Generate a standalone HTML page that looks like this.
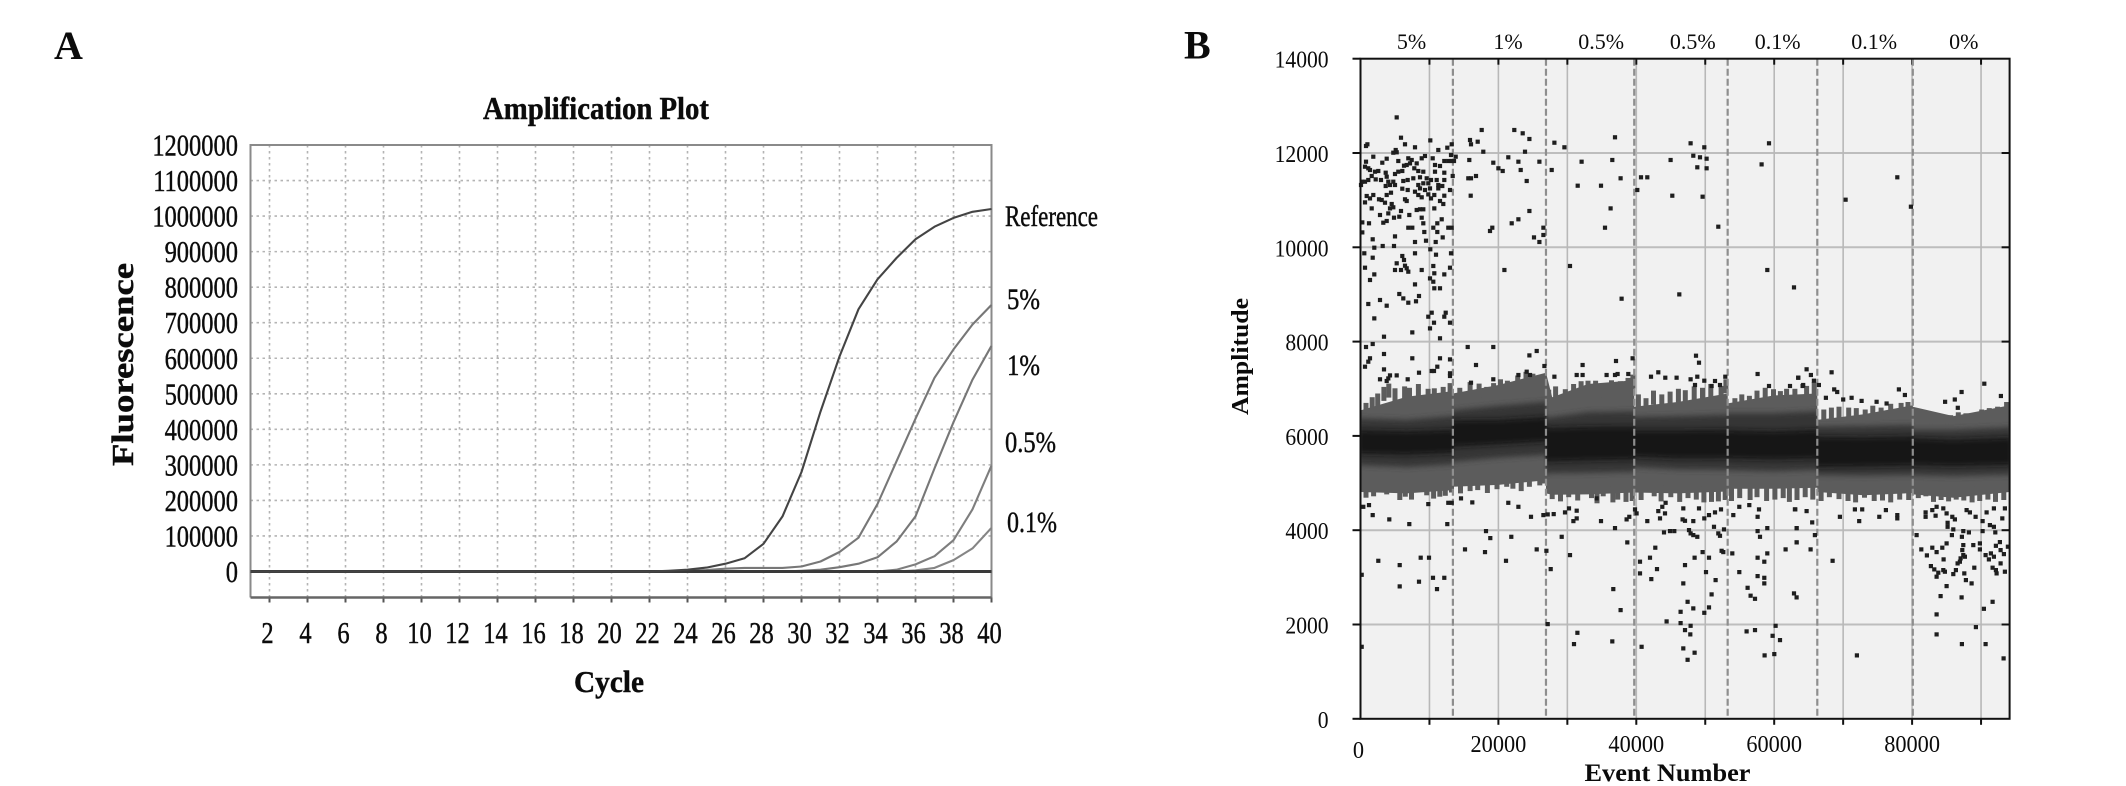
<!DOCTYPE html>
<html lang="en">
<head>
<meta charset="utf-8">
<title>Amplification plot and droplet amplitude plot</title>
<style>
html,body{margin:0;padding:0;background:#fff;width:2126px;height:786px;overflow:hidden}
svg{display:block}
text{font-family:"Liberation Serif",serif;fill:#0b0b0b}
#plotA text,.heavy{stroke:#111;stroke-width:.45}
</style>
</head>
<body>
<svg id="figure" xmlns="http://www.w3.org/2000/svg" width="2126" height="786" viewBox="0 0 2126 786">
  <defs>
    <filter id="soft" x="-2%" y="-30%" width="104%" height="160%"><feGaussianBlur stdDeviation="1.2 3"/></filter>
    <clipPath id="clipB"><rect x="1360.5" y="58.6" width="649" height="660.2"/></clipPath>
  </defs>
  <rect width="2126" height="786" fill="#fff"/>

  <text x="54" y="59" font-size="40" font-weight="bold">A</text>
  <text x="1184" y="58.6" font-size="40" font-weight="bold">B</text>

  <text class="heavy" x="483" y="119" font-size="32" font-weight="bold" textLength="226" lengthAdjust="spacingAndGlyphs">Amplification Plot</text>
  <text class="heavy" transform="translate(133,466) rotate(-90)" font-size="31" font-weight="bold" textLength="203" lengthAdjust="spacingAndGlyphs">Fluorescence</text>
  <text class="heavy" x="574" y="692" font-size="31" font-weight="bold" textLength="70" lengthAdjust="spacingAndGlyphs">Cycle</text>

  <g id="plotA"></g>

  <text class="heavy" x="1005" y="226" font-size="30" textLength="93" lengthAdjust="spacingAndGlyphs">Reference</text>
  <text class="heavy" x="1007" y="309" font-size="30" textLength="33" lengthAdjust="spacingAndGlyphs">5%</text>
  <text class="heavy" x="1007" y="375" font-size="30" textLength="33" lengthAdjust="spacingAndGlyphs">1%</text>
  <text class="heavy" x="1005" y="452" font-size="30" textLength="51" lengthAdjust="spacingAndGlyphs">0.5%</text>
  <text class="heavy" x="1007" y="532" font-size="30" textLength="50" lengthAdjust="spacingAndGlyphs">0.1%</text>

  <g id="plotB"></g>

  <text transform="translate(1248,415) rotate(-90)" font-size="24" font-weight="bold" textLength="117" lengthAdjust="spacingAndGlyphs">Amplitude</text>
  <text x="1584.5" y="781" font-size="25" font-weight="bold" textLength="166" lengthAdjust="spacingAndGlyphs">Event Number</text>
</svg>

<script>
// ---------- Panel A data ----------
const cycles = [1,2,3,4,5,6,7,8,9,10,11,12,13,14,15,16,17,18,19,20,21,22,23,24,25,26,27,28,29,30,31,32,33,34,35,36,37,38,39,40];
const cycleTickLabels = [2,4,6,8,10,12,14,16,18,20,22,24,26,28,30,32,34,36,38,40];
const fluorescenceTickLabels = [0,100000,200000,300000,400000,500000,600000,700000,800000,900000,1000000,1100000,1200000];
const referenceSeries = [0,0,0,0,0,0,0,0,0,0,0,0,0,0,0,0,0,0,0,0,0,0,2000,5000,11000,22000,37000,78000,155000,280000,450000,605000,738000,822000,882000,935000,970000,995000,1012000,1020000];
const fivePercentSeries = [0,0,0,0,0,0,0,0,0,0,0,0,0,0,0,0,0,0,0,0,0,0,0,2000,4000,8000,10000,10000,10000,14000,28000,55000,95000,190000,310000,430000,545000,625000,695000,750000];
const onePercentSeries = [0,0,0,0,0,0,0,0,0,0,0,0,0,0,0,0,0,0,0,0,0,0,0,0,0,0,0,0,0,2000,5000,12000,22000,40000,84000,155000,290000,420000,540000,635000];
const halfPercentSeries = [0,0,0,0,0,0,0,0,0,0,0,0,0,0,0,0,0,0,0,0,0,0,0,0,0,0,0,0,0,0,0,0,0,0,5000,20000,43000,88000,175000,298000];
const tenthPercentSeries = [0,0,0,0,0,0,0,0,0,0,0,0,0,0,0,0,0,0,0,0,0,0,0,0,0,0,0,0,0,0,0,0,0,0,0,3000,10000,32000,65000,123000];

// ---------- Panel B data ----------
const amplitudeTickLabels = [0,2000,4000,6000,8000,10000,12000,14000];
const eventTickLabels = [0,20000,40000,60000,80000];
const eventGridValues = [10000,20000,30000,40000,50000,60000,70000,80000,90000];
const wellBoundaries = [13400,26900,39700,53250,66250,80100];
const wellLabels = ["5%","1%","0.5%","0.5%","0.1%","0.1%","0%"];
const wellLabelEvents = [7400,21400,34900,48200,60500,74500,87500];
const bandEvents =      [0,6700,13400,13400,20000,26900,26900,27800,33000,39700,39700,46000,53250,53250,60000,66250,66250,73000,80100,80100,86000,94140];
const bandOuterTop =    [6540,6830,6950,6900,7080,7340,7340,6820,7100,7180,6620,6720,6900,6690,6860,6900,6340,6460,6650,6620,6420,6650];
const bandMidTop =      [6370,6340,6420,6540,6640,6720,6400,6400,6500,6520,6400,6420,6450,6480,6480,6520,6200,6210,6230,6130,6130,6180];
const bandCoreTop =     [6120,6100,6130,6330,6340,6400,6190,6170,6190,6200,6120,6120,6130,6120,6100,6130,5980,5970,5990,5950,5920,5960];
const bandCoreBottom =  [5620,5600,5640,5770,5820,5880,5450,5460,5480,5500,5560,5520,5530,5520,5500,5520,5340,5350,5370,5380,5360,5390];
const bandMidBottom =   [5380,5340,5400,5450,5540,5600,5200,5210,5220,5240,5340,5290,5280,5270,5250,5280,5170,5160,5170,5170,5150,5180];
const bandOuterBottom = [4810,4780,4850,4920,4960,5060,4780,4750,4760,4800,4800,4780,4820,4880,4880,4900,4810,4740,4790,4760,4690,4810];
const bandFringeTop = [
[800,6700],[1700,6820],[2500,6900],[3400,7040],[4100,7110],[5000,7010],[6400,7050],[7100,7020],[8400,7100],[9800,7000],[10700,7010],[12000,7040],[13000,7120],
[14400,7020],[15900,7140],[17200,7110],[18300,7040],[19300,7120],[20300,7200],[21300,7170],[22800,7280],[24000,7360],[25000,7320],
[27300,6980],[28300,7050],[29700,6990],[30900,7100],[32000,7160],[33000,7170],[34100,7170],[35300,7110],[36400,7180],[37700,7160],[38800,7230],[39500,7300],
[40300,6880],[41400,6800],[42500,6960],[43700,6880],[44900,6940],[46100,7000],[47100,6970],[48400,7050],[49600,7020],[50800,7100],[52300,7060],[53000,7200],
[54300,6800],[55300,6880],[56400,6850],[57500,6960],[58700,7020],[59900,6990],[60900,6950],[61800,7000],[63000,7000],[64700,7060],[65800,7140],
[67200,6560],[68300,6600],[69400,6620],[70800,6600],[71900,6590],[73200,6560],[74300,6640],[75500,6600],[76900,6680],[78400,6700],[79400,6720],
[81000,6500],[82200,6490],[83300,6460],[84500,6420],[85600,6440],[86700,6500],[87800,6480],[88900,6440],[90100,6560],[91200,6590],[92400,6620],[93700,6720]
];
const bandFringeBottom = [
[800,4690],[1900,4720],[3800,4760],[5700,4640],[6500,4710],[7400,4650],[9600,4740],[10600,4670],[11500,4710],[12300,4730],[13200,4800],
[14500,4780],[15900,4830],[17000,4850],[18400,4790],[19800,4870],[21200,4920],[22100,4880],[23300,4830],[24500,4920],[26000,4950],[26600,4990],
[27800,4660],[29000,4610],[30200,4700],[31500,4630],[33500,4680],[34300,4570],[35200,4720],[36600,4590],[37300,4650],[38500,4600],[39400,4620],
[40700,4640],[42600,4720],[43600,4610],[45000,4700],[46300,4600],[47500,4680],[48700,4650],[49800,4590],[50900,4600],[51900,4610],[52900,4640],
[53800,4620],[55000,4680],[56500,4640],[57500,4700],[58900,4620],[60100,4650],[61300,4680],[62200,4600],[63300,4640],[64500,4700],[65600,4650],
[66800,4620],[68000,4700],[69400,4660],[70700,4620],[71800,4590],[73100,4690],[74500,4620],[75700,4630],[76900,4590],[78200,4650],[79500,4640],
[80900,4680],[82000,4720],[83100,4600],[84200,4640],[85300,4610],[86400,4650],[87500,4630],[88700,4590],[89800,4620],[91000,4650],[92100,4600],[93300,4640]
];
const dropletPoints = [
[5246,12756],[5874,12325],[6454,12184],[10129,12268],[7905,12120],[1006,12184],[798,12148],[5100,12063],[5246,12014],[4762,12007],[11290,12063],[12595,12113],[13224,12184],[13126,11957],[13804,11922],[1861,11922],[3795,11880],[3167,11795],[5487,11830],[6938,11887],[7420,11851],[7180,11780],[6696,11745],[6309,11730],[9355,11936],[8872,11887],[10468,11887],[10806,11745],[11531,11724],[12160,11830],[12740,11830],[13224,11830],[13562,11830],[798,11816],[652,11710],[1136,11675],[1378,11640],[8147,11780],[7808,11675],
[2103,11604],[2587,11618],[1620,11512],[3650,11583],[3795,11498],[5004,11555],[5487,11604],[6068,11618],[8388,11618],[9114,11604],[10806,11604],[12160,11583],[13369,11512],[169,11392],[652,11392],[1136,11427],[2200,11441],[2973,11427],[4037,11392],[4762,11392],[6213,11406],[6841,11427],[7663,11463],[8630,11484],[9597,11463],[10226,11427],[11048,11427],[12160,11427],[72,11321],[3650,11300],[4279,11321],[5004,11321],[8388,11321],[9114,11357],[9839,11357],[11290,11321],[11870,11300],[6068,11243],[6841,11215],[7905,11180],[8630,11250],[9355,11215],[10081,11250],[11290,11250],[12982,11215],[894,11088],[1861,11109],[3795,11109],[4424,11158],[8388,11109],[8872,11060],[9839,11123],[10709,11109],[12160,11095],[1378,11038],[652,10953],[2683,11017],[3070,11003],[3553,10946],[6454,11017],[6696,10982],[10226,11038],[11531,10982],[12015,10918],[4520,10918],[1620,10826],[4279,10826],[4762,10848],[5874,10770],[10709,10826],[8147,10791],[8630,10805],[9114,10805],[2828,10685],[4037,10720],[7083,10685],[4859,10628],[5632,10649],[8872,10628],[11773,10593],[3312,10522],[3795,10558],[9114,10508],[11145,10508],[266,10529],[1233,10508],[6938,10416],[7518,10416],[10564,10416],[12740,10416],[13224,10416],[266,10317],[9259,10324],[11145,10324],[5004,10232],[11919,10211],[1765,10169],[9500,10141],[7905,10112],[10903,10112],[2006,9992],[3215,10027],[4859,10027],[10129,9957],[556,9872],[7905,9872],[10951,9843],[13126,9872],[1765,9780],[6068,9815],[6309,9730],[5246,9660],[6454,9610],[6696,9554],[5004,9518],[5874,9518],[6938,9483],[8872,9518],[10564,9603],[652,9568],[12982,9568],[10709,9448],[12160,9426],[2006,9426],[1378,9306],[10081,9341],[10564,9271],[7905,9214],[10709,9130],[11531,9130],[5632,9009],[6213,8917],[6938,8825],[8485,8967],[8050,8854],[2828,8882],[1136,8797],[3795,8762],[10322,8613],[12353,8613],[9839,8528],[12160,8528],[2006,8493],[12982,8401],[10661,8401],[10081,8281],[7518,8196],[3408,8104],[11531,8069],[1765,7949],[798,7885],[15544,7885],[19267,7885],[3408,7737],[1378,7645],[1136,7574],[7518,7645],[11531,7645],[12982,7623],[652,7468],[11145,7468],[3408,7411],[10322,7376],[10661,7376],[8485,7341],[12982,7327],[12982,7270],[4279,7284],[5246,7284],[4037,7220],[3795,7164],[2828,7200],[6841,7200],
[15883,12276],[16028,12184],[16995,12240],[17575,12488],[17816,12028],[22313,12488],[23522,12417],[24489,12297],[28115,12219],[29566,12120],[23860,12028],[21443,11908],[22894,11816],[25940,11816],[15786,11851],[19267,11795],[19993,11675],[20621,11618],[23232,11640],[27729,11640],[15641,11463],[16028,11463],[16753,11512],[24102,11406],[31500,11307],[15979,11095],[24489,10770],[22894,10593],[21926,10508],[19122,10416],[18784,10346],[26520,10416],[26520,10261],[25166,10211],[25940,10112],[20863,9518],[30388,9603],[16753,7503],[24489,7708],[25553,7800],[26665,7482],[19267,7200],[16028,7129],[24102,7362],[24585,7291],[28115,7256],[31355,7291],[22894,7291],
[32070,11816],[36518,11851],[37727,11463],[34874,11307],[36276,10826],[35454,10416],[36905,12332],[37872,8910],[47880,12205],[49862,12120],[48267,11943],[49234,11908],[50201,11880],[48847,11696],[50201,11675],[44979,11851],[40676,11484],[41595,11484],[40144,11215],[45221,11095],[49621,11074],[51893,10437],[46236,9002],[59242,12205],[58179,11759],[58999,9518],[62869,9150],[37050,7588],[39467,7645],[32215,7503],[32215,7291],[35696,7291],[36905,7291],[37292,7313],[38839,7313],[42127,7256],[43190,7348],[44205,7235],[45850,7235],[48654,7701],[49089,7553],[47880,7200],[48847,7256],[49862,7171],[52908,7256],[51409,7164],[57599,7313],[63497,7235],[59242,7058],[48509,7079],[52135,7079],[50926,7058],[62288,7058],[64126,7058],
[77847,11484],[70352,11010],[79829,10862],[64695,7412],[65324,7291],[63487,7235],[65759,7171],[64212,7079],[66484,7079],[68322,7348],[68709,6987],[69144,6931],[78089,6987],[78959,6867],[87178,6931],[90466,7107],[92883,6846],[84790,6723],[86192,6772],[86627,6596],[67496,6808],[71219,6808],[70010,6772],[72677,6743],[74852,6723],[76302,6688],
[411,4497],[1233,4533],[1765,4321],[4182,4229],[7083,4130],[12595,4130],[9839,4554],[12740,4582],[13224,4582],[14577,4674],[16221,4589],[18204,3981],[18832,3833],[21878,3861],[24731,4285],[22894,4497],[21443,4582],[26520,4321],[27149,4335],[28019,4342],[29663,4377],[30243,4462],[31355,4413],[31355,4250],[30871,4193],[15157,3592],[18058,3536],[25553,3592],[26955,3564],[29179,3861],[30388,3472],[21105,3352],[27583,3175],[8727,3416],[9936,3416],[2587,3352],[5681,3260],[169,3055],[10516,2991],[12160,2991],[8485,2907],[5681,2808],[11096,2751],[27149,2009],[31451,1825],[30968,1585],[169,1528],
[34246,4674],[34874,4193],[36905,4045],[38694,3741],[38597,4229],[38984,4285],[40048,4356],[39806,4441],[41595,4193],[36663,2751],[37727,2306],[36518,1641],[43190,4405],[43432,4250],[44157,4356],[43770,4497],[44254,4582],[46817,4462],[49089,4462],[46720,4229],[47058,4200],[48267,4193],[49862,4250],[50539,4321],[51409,4377],[52280,4441],[54069,4321],[54939,4497],[56390,4533],[57599,4285],[57792,4441],[51264,4073],[52715,4017],[51893,3932],[52135,3882],[44012,3953],[44882,3981],[45511,3981],[47638,4002],[47880,3932],[48267,3897],[48847,3861],[57599,3981],[58999,4045],[57937,3861],[63255,4045],[63255,3741],[63062,4441],[61660,3592],[58999,3508],[53924,3508],[52377,3564],[52618,3536],[49621,3536],[50539,3416],[48460,3416],[42755,3628],[41982,3416],[40531,3331],[40531,3083],[47058,3260],[42997,3175],[42175,2963],[50104,3112],[46817,2871],[51506,2942],[54939,3112],[57599,3416],[58565,3331],[57599,3027],[58565,2991],[58565,2871],[56148,2779],[50926,2638],[56583,2610],[57212,2546],[62869,2659],[63255,2574],[47445,2482],[48267,2341],[50539,2362],[46430,2270],[49862,2249],[44399,2065],[46430,2030],[47880,1973],[47058,1881],[47832,1790],[60209,1973],[56003,1853],[57212,1881],[59774,1761],[60838,1669],[46817,1493],[48460,1401],[40773,1528],[47445,1252],[58613,1344],[60015,1373],
[63003,4441],[64695,4405],[65517,4165],[63245,4045],[63245,3741],[65904,3896],[65276,3592],[68467,3352],[69530,4285],[72335,4193],[75236,4285],[77847,4321],[77847,4250],[76203,4427],[72770,4441],[71706,4441],[80651,3896],[81956,4377],[81956,4285],[82924,4427],[83552,4497],[83407,4307],[84519,4462],[85003,4356],[85824,4285],[86211,4229],[85147,4158],[85147,4073],[87904,4427],[88387,4377],[89209,4285],[90225,4193],[91288,4108],[91868,4073],[93077,4250],[93464,4462],[90805,4377],[91868,4462],[85970,4017],[87420,3981],[88242,3953],[90225,3981],[92061,3953],[85776,3896],[87227,3861],[85003,3720],[87420,3684],[88870,3684],[89837,3720],[92739,3748],[92158,3670],[93899,3649],[81328,3592],[82924,3628],[83552,3536],[84374,3628],[89837,3592],[92835,3578],[87275,3578],[87420,3472],[87033,3402],[87662,3437],[86936,3331],[86598,3295],[82150,3465],[84567,3380],[90660,3472],[91434,3508],[91868,3437],[93319,3493],[91143,3380],[82730,3239],[83213,3168],[83794,3098],[83552,3013],[84519,3154],[84760,3119],[86356,3154],[85969,3069],[89015,3204],[91675,3204],[92158,3154],[92255,3083],[92835,3295],[93464,3119],[87565,3083],[87807,2942],[88628,2871],[85003,2815],[84132,2603],[87178,2574],[91675,2482],[90418,2334],[83552,2214],[89257,1945],[83552,1790],[87227,1585],[90660,1585],[93270,1281],[71996,1344]
];

// ---------- Helpers and axis functions ----------
const NS = 'http://www.w3.org/2000/svg';
function make(parent, tag, attrs, content) {
  const el = document.createElementNS(NS, tag);
  for (const k in attrs) el.setAttribute(k, attrs[k]);
  if (content !== undefined) el.textContent = content;
  parent.appendChild(el);
  return el;
}
const xA = c => 250.5 + (c - 1) * 19;
const yA = v => 571.5 - v * 426.5 / 1200000;
const xB = e => 1360.5 + e * 0.006895;
const yB = a => 718.8 - a * 0.04715;

// ---------- Panel A drawing ----------
const plotA = document.getElementById('plotA');
const A_LEFT = xA(1), A_RIGHT = xA(40), A_TOP = yA(1200000), A_BOTTOM = 597.5;

fluorescenceTickLabels.forEach(v => {
  const g = make(plotA, 'line', {x1:A_LEFT, x2:A_RIGHT, y1:yA(v), y2:yA(v), stroke:'#b4b4b4', 'stroke-width':1.6, 'stroke-dasharray':'2.5 3.5'});
  
  
  const t = make(plotA, 'text', {transform:`translate(238,${yA(v) + 10.5}) scale(.79,1)`, 'text-anchor':'end', 'font-size':31}, String(v));
  
  
});
cycleTickLabels.forEach(c => {
  const g = make(plotA, 'line', {x1:xA(c), x2:xA(c), y1:A_TOP, y2:A_BOTTOM, stroke:'#b4b4b4', 'stroke-width':1.6, 'stroke-dasharray':'2.5 3.5'});
  
  
  const k = make(plotA, 'line', {x1:xA(c), x2:xA(c), y1:A_BOTTOM, y2:A_BOTTOM + 5, stroke:'#555', 'stroke-width':2});
  
  
  const t = make(plotA, 'text', {transform:`translate(${xA(c) - 2},643) scale(.79,1)`, 'text-anchor':'middle', 'font-size':31}, String(c));
  
  
});
const frameA = make(plotA, 'path', {d:`M${A_LEFT} ${A_BOTTOM}V${A_TOP}H${A_RIGHT}V${A_BOTTOM}`, fill:'none', stroke:'#8a8a8a', 'stroke-width':2});


const axisA = make(plotA, 'line', {x1:A_LEFT, x2:A_RIGHT, y1:A_BOTTOM, y2:A_BOTTOM, stroke:'#666', 'stroke-width':2.4});



function curve(values, colour) {
  const d = values.map((v, i) => (i ? 'L' : 'M') + xA(cycles[i]).toFixed(1) + ' ' + yA(v).toFixed(1)).join('');
  return make(plotA, 'path', {d:d, fill:'none', stroke:colour, 'stroke-width':2.1, 'stroke-linejoin':'round'});
}
const curveTenth = curve(tenthPercentSeries, '#858585');


const curveHalf = curve(halfPercentSeries, '#7e7e7e');


const curveOne = curve(onePercentSeries, '#777');


const curveFive = curve(fivePercentSeries, '#777');


const baseline = make(plotA, 'line', {x1:A_LEFT, x2:A_RIGHT, y1:yA(0), y2:yA(0), stroke:'#3a3a3a', 'stroke-width':3});


const curveRef = curve(referenceSeries, '#444');



// ---------- Panel B drawing ----------
const plotB = document.getElementById('plotB');
const B_LEFT = 1360.5, B_RIGHT = 2009.6, B_TOP = yB(14000), B_BOTTOM = yB(0);

const bgB = make(plotB, 'rect', {x:B_LEFT, y:B_TOP, width:B_RIGHT - B_LEFT, height:B_BOTTOM - B_TOP, fill:'#f1f1f1'});



amplitudeTickLabels.forEach(a => {
  if (a > 0 && a < 14000) {
    const g = make(plotB, 'line', {x1:B_LEFT, x2:B_RIGHT, y1:yB(a), y2:yB(a), stroke:'#bdbdbd', 'stroke-width':2});
    
    
    const r = make(plotB, 'line', {x1:B_RIGHT - 8, x2:B_RIGHT, y1:yB(a), y2:yB(a), stroke:'#111', 'stroke-width':2});
    
    
  }
  const k = make(plotB, 'line', {x1:B_LEFT - 8, x2:B_LEFT, y1:yB(a), y2:yB(a), stroke:'#111', 'stroke-width':2});
  
  
  const t = make(plotB, 'text', {transform:`translate(1328.6,${yB(a) + 9}) scale(.9,1)`, 'text-anchor':'end', 'font-size':24}, String(a));
  
  
});
eventGridValues.forEach(e => {
  const g = make(plotB, 'line', {x1:xB(e), x2:xB(e), y1:B_TOP, y2:B_BOTTOM, stroke:'#b8b8b8', 'stroke-width':1.6});
  
  
  const k = make(plotB, 'line', {x1:xB(e), x2:xB(e), y1:B_BOTTOM, y2:B_BOTTOM + 6, stroke:'#111', 'stroke-width':2});
  
  
  const m = make(plotB, 'line', {x1:xB(e), x2:xB(e), y1:B_TOP, y2:B_TOP + 6, stroke:'#111', 'stroke-width':2});
  
  
});
eventTickLabels.forEach(e => {
  const t = make(plotB, 'text', {transform:`translate(${xB(e) - (e === 0 ? 2 : 0)},${e === 0 ? 758 : 752}) scale(.93,1)`, 'text-anchor':'middle', 'font-size':24}, String(e));
  
  
});
wellLabels.forEach((label, i) => {
  const t = make(plotB, 'text', {x:xB(wellLabelEvents[i]), y:49, 'text-anchor':'middle', 'font-size':22}, label);
  
  
});

function band(topValues, bottomValues, colour, soft) {
  const up = bandEvents.map((e, i) => xB(e).toFixed(1) + ' ' + yB(topValues[i]).toFixed(1));
  const down = bandEvents.map((e, i) => xB(e).toFixed(1) + ' ' + yB(bottomValues[i]).toFixed(1)).reverse();
  const attrs = {d:'M' + up.join('L') + 'L' + down.join('L') + 'Z', fill:colour, 'clip-path':'url(#clipB)'};
  if (soft) attrs.filter = 'url(#soft)';
  return make(plotB, 'path', attrs);
}
const bandOuter = band(bandOuterTop, bandOuterBottom, '#5c5c5c', false);



bandFringeTop.forEach(p => {
  const r = make(plotB, 'rect', {x:(xB(p[0]) - 2.5).toFixed(1), y:yB(p[1]).toFixed(1), width:5, height:14, fill:'#5c5c5c'});
  
  
});
bandFringeBottom.forEach(p => {
  const r = make(plotB, 'rect', {x:(xB(p[0]) - 2.5).toFixed(1), y:(yB(p[1]) - 16).toFixed(1), width:5, height:16, fill:'#5c5c5c'});
  
  
});

const bandMid = band(bandMidTop, bandMidBottom, '#363636', true);


const bandCore = band(bandCoreTop, bandCoreBottom, '#191919', true);



wellBoundaries.forEach(e => {
  const d = make(plotB, 'line', {x1:xB(e), x2:xB(e), y1:B_TOP, y2:B_BOTTOM, stroke:'#8e8e8e', 'stroke-width':2.2, 'stroke-dasharray':'7 3'});
  
  
});

dropletPoints.forEach(p => {
  const r = make(plotB, 'rect', {x:(xB(p[0]) - 2.1).toFixed(1), y:(yB(p[1]) - 2.1).toFixed(1), width:4.2, height:4.2, fill:'#1e1e1e'});
  
  
});

const frameB = make(plotB, 'rect', {x:B_LEFT, y:B_TOP, width:B_RIGHT - B_LEFT, height:B_BOTTOM - B_TOP, fill:'none', stroke:'#111', 'stroke-width':2});


</script>
</body>
</html>
